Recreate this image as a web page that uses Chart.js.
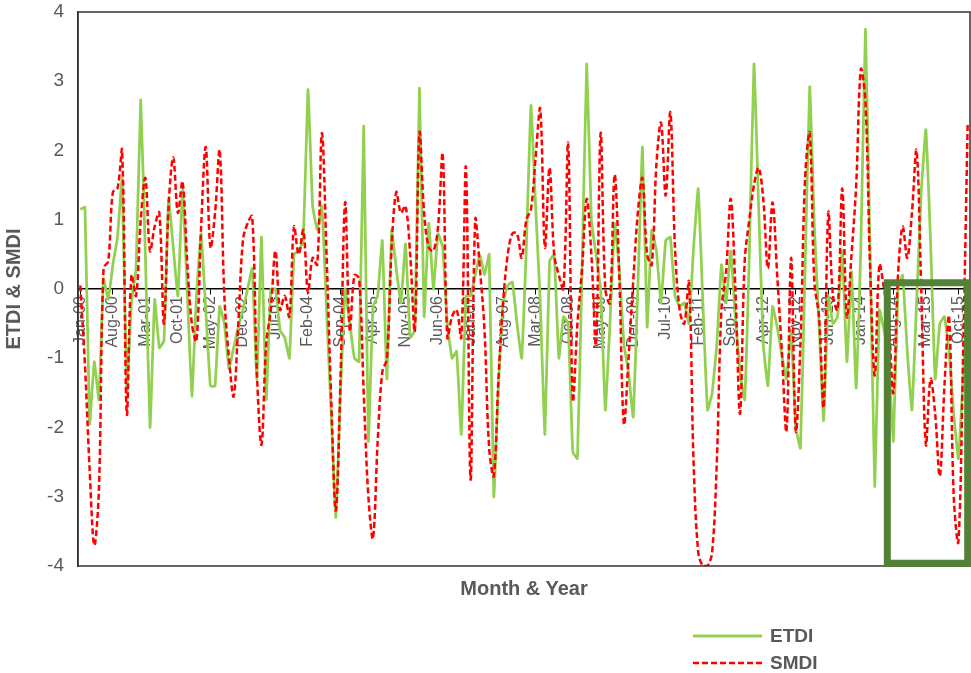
<!DOCTYPE html>
<html>
<head>
<meta charset="utf-8">
<title>ETDI &amp; SMDI</title>
<script src="https://cdn.jsdelivr.net/npm/chart.js@4.4.0/dist/chart.umd.min.js"></script>
<style>
  body { margin: 0; background: #fff; }
  .wrap { position: relative; width: 971px; height: 673px; font-family: "Liberation Sans", Arial, sans-serif; }
  .x-title { position: absolute; left: 78px; width: 892px; top: 576px; line-height: 24px; text-align: center; font-weight: bold; font-size: 20px; color: #595959; }
  .legend { position: absolute; left: 693px; top: 622px; color: #595959; font-weight: bold; font-size: 19px; }
  .legend .row { height: 27px; display: flex; align-items: center; }
  .legend svg { margin-right: 8px; }
</style>
</head>
<body>
<div class="wrap">
  <canvas id="chart" width="971" height="673"></canvas>
  <div class="x-title">Month &amp; Year</div>
  <div class="legend">
    <div class="row"><svg width="69" height="6"><line x1="0" y1="3" x2="69" y2="3" stroke="#92D050" stroke-width="3"/></svg>ETDI</div>
    <div class="row"><svg width="69" height="6"><line x1="0" y1="3" x2="69" y2="3" stroke="#FF0000" stroke-width="2.5" stroke-dasharray="6 3"/></svg>SMDI</div>
  </div>
</div>
<script>
const monthNames = ['Jan', 'Feb', 'Mar', 'Apr', 'May', 'Jun', 'Jul', 'Aug', 'Sep', 'Oct', 'Nov', 'Dec'];
const years = ['00', '01', '02', '03', '04', '05', '06', '07', '08', '09', '10', '11', '12', '13', '14', '15'];
const labels = [];
years.forEach(y => monthNames.forEach(m => labels.push(m + '-' + y)));

// one row per year, Jan..Dec
const etdi = [
  1.15, 1.18, -1.95, -1.05, -1.6, 0.15, -0.15, 0.35, 0.75, 1.6, -1.5, -0.2,
  0.3, 2.73, 0.5, -2.0, -0.15, -0.85, -0.75, 1.3, 0.6, -0.1, 1.45, 0.0,
  -1.55, -0.1, 0.8, -0.3, -1.4, -1.4, -0.25, -0.5, -1.15, -0.85, -0.55, -0.3,
  0.0, 0.3, -1.3, 0.75, -1.6, 0.0, 0.0, -0.6, -0.7, -1.0, 0.5, 0.55,
  0.7, 2.88, 1.2, 0.85, 1.2, -0.3, -1.8, -3.3, -1.5, 0.0, -0.5, -1.0,
  -1.05, 2.35, -2.2, -0.25, -0.1, 0.7, -1.3, 0.85, 0.3, -0.2, 0.65, -0.7,
  -0.6, 2.9, -0.4, 0.95, 0.0, 0.8, 0.6, -0.5, -1.0, -0.9, -2.1, -0.1,
  -0.1, 0.2, 0.5, 0.2, 0.5, -3.0, -1.4, -0.2, 0.05, 0.1, -0.5, -1.0,
  0.6, 2.65, 1.2, -0.2, -2.1, 0.4, 0.5, -1.0, -0.4, -0.5, -2.35, -2.45,
  0.3, 3.25, 1.0, 0.5, 0.0, -1.75, -0.5, 0.95, 0.3, -0.8, -1.2, -1.85,
  0.0, 2.05, -0.55, 0.85, 0.55, -0.2, 0.7, 0.75, -0.1, -0.25, -0.2, -0.5,
  0.6, 1.45, -0.2, -1.75, -1.5, -0.8, 0.35, -0.2, 0.55, -0.4, -1.2, -1.6,
  0.5, 3.25, 1.2, -0.8, -1.4, -0.25, -0.55, -0.95, -1.3, -0.6, -2.0, -2.3,
  0.3, 2.92, 0.9, -0.5, -1.9, -0.1, -0.5, -0.4, 0.55, -1.05, 0.25, -1.43,
  0.6, 3.75, 0.5, -2.85, -0.3, -0.6, -1.0, -2.2, 0.0, 0.2, -0.9, -1.75,
  -0.2, 1.4, 2.3, 0.7, -1.3, -0.5, -0.4, -0.9, -1.8, -2.45, -1.3, 0.05
];
const smdi = [
  0.05, -1.1, -2.6, -3.7, -2.9, 0.3, 0.4, 1.4, 1.45, 2.0, -1.8, 0.2,
  -0.1, 1.0, 1.6, 0.55, 0.9, 1.1, -0.5, 1.2, 1.9, 1.1, 1.55, 0.4,
  -0.5, -0.75, 0.9, 2.05, 0.6, 1.1, 2.0, -0.1, -1.0, -1.55, -0.5, 0.7,
  0.95, 1.05, -1.2, -2.25, -0.8, -0.3, 0.55, -0.3, -0.1, -0.4, 0.9, 0.5,
  0.85, -0.05, 0.45, 0.35, 2.25, 0.5, -1.6, -3.2, -1.3, 1.25, -0.6, 0.2,
  0.15, -1.5, -3.0, -3.6, -2.2, -1.2, -1.0, 0.6, 1.4, 1.1, 1.2, 0.5,
  -0.6, 2.25, 1.1, 0.6, 0.55, 0.9, 1.95, -0.7, -0.4, -0.3, -0.7, 1.75,
  -2.75, 1.0, 0.3, -0.6, -2.3, -2.7, -1.3, -0.2, 0.5, 0.8, 0.8, 0.45,
  1.0, 1.15, 1.9, 2.6, 0.6, 1.75, 0.5, 0.2, 0.0, 2.1, -1.6, -0.5,
  0.3, 1.3, 0.5, -0.8, 2.25, 0.0, -0.2, 1.65, 0.2, -1.95, -1.0, 0.1,
  1.1, 1.6, 0.5, 0.35, 1.8, 2.4, 1.35, 2.55, 0.6, -0.3, -0.5, 0.1,
  -2.5, -3.8, -4.0, -4.0, -3.8, -2.5, -0.3, 0.25, 1.3, 0.0, -1.8, 0.4,
  1.0, 1.5, 1.75, 1.3, 0.3, 1.25, 0.2, -0.9, -2.05, 0.45, -2.05, -0.8,
  1.6, 2.25, 0.1, -0.4, -1.7, 1.1, -0.1, -0.3, 1.45, -0.4, 0.5, 1.5,
  3.17, 2.7, 0.3, -1.25, 0.35, 0.0, -0.5, -1.5, 0.2, 0.9, 0.45, 1.1,
  2.0, 0.0, -2.25, -1.3, -1.8, -2.7, -1.4, -0.4, -3.0, -3.65, -1.0, 2.4
];
const labelEvery = 7;

// highlighted period (Jul-14 .. Dec-15), in category index / value units
const boxFrom = 173.7, boxTo = 191, boxTop = 0.09, boxBottom = -3.96;

const frame = {
    id: 'frame',
    afterDraw(chart) {
        const { ctx, chartArea: a, scales } = chart;
        ctx.save();
        ctx.strokeStyle = '#333';
        ctx.lineWidth = 1.5;
        ctx.strokeRect(a.left, a.top, a.right - a.left, a.bottom - a.top);
        // green highlight box
        const x1 = scales.x.getPixelForValue(boxFrom);
        const x2 = scales.x.getPixelForValue(boxTo);
        const y1 = scales.y.getPixelForValue(boxTop);
        const y2 = scales.y.getPixelForValue(boxBottom);
        ctx.strokeStyle = '#538135';
        ctx.lineWidth = 7;
        ctx.strokeRect(x1, y1, x2 - x1, y2 - y1);
        ctx.restore();
    }
};

new Chart(document.getElementById('chart'), {
    type: 'line',
    data: {
        labels: labels,
        datasets: [{
            label: 'ETDI',
            data: etdi,
            borderColor: '#92D050',
            borderWidth: 2.75,
            pointRadius: 0,
            tension: 0.1,
            order: 1
        }, {
            label: 'SMDI',
            data: smdi,
            borderColor: '#FF0000',
            borderWidth: 2.5,
            borderDash: [6, 3],
            pointRadius: 0,
            tension: 0.35,
            order: 0
        }]
    },
    options: {
        responsive: false,
        animation: false,
        layout: { padding: { top: 12, right: 1, bottom: 107, left: 0 } },
        plugins: {
            legend: { display: false },
            tooltip: { enabled: false }
        },
        scales: {
            x: {
                position: { y: 0 },
                offset: true,
                afterFit: s => { s.height = 0; s.paddingLeft = 0; s.paddingRight = 0; },
                border: { display: true, color: '#000', width: 1.5 },
                grid: {
                    drawOnChartArea: false,
                    tickLength: 5,
                    tickColor: c => (c.index % labelEvery === 0 ? '#000' : 'rgba(0,0,0,0)')
                },
                ticks: {
                    autoSkip: false,
                    maxRotation: 90,
                    minRotation: 90,
                    padding: 2,
                    color: '#595959',
                    font: { family: 'Liberation Sans', size: 16 },
                    callback: (v, i) => (i % labelEvery === 0 ? labels[i] : '')
                }
            },
            y: {
                min: -4,
                max: 4,
                afterFit: s => { s.width = 78; s.paddingTop = 0; s.paddingBottom = 0; },
                border: { display: true, color: '#333', width: 1.5 },
                grid: { display: false },
                ticks: {
                    stepSize: 1,
                    padding: 6,
                    color: '#595959',
                    font: { family: 'Liberation Sans', size: 19 }
                },
                title: {
                    display: true,
                    text: 'ETDI & SMDI',
                    color: '#595959',
                    padding: { top: 2, bottom: 4 },
                    font: { family: 'Liberation Sans', size: 20, weight: 'bold' }
                }
            }
        }
    },
    plugins: [frame]
});
</script>
</body>
</html>
